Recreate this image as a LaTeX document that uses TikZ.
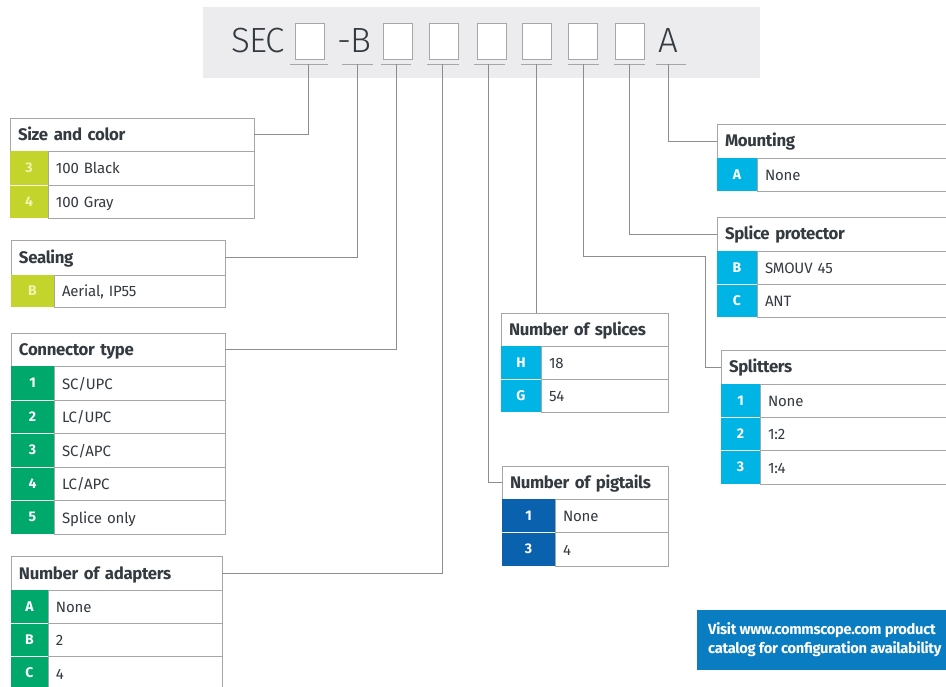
\documentclass[tikz,border=0pt]{standalone}
\usepackage{fontspec}
\setmainfont{Fira Sans}
\newfontface\lightface{Fira Sans Light}
\definecolor{lime}{HTML}{C3D42C}
\definecolor{limetxt}{HTML}{F0F4B0}
\definecolor{grn}{HTML}{00A86B}
\definecolor{cyn}{HTML}{00B4E6}
\definecolor{dblue}{HTML}{0A62AE}
\definecolor{banner}{HTML}{0A7DC2}
\definecolor{band}{HTML}{ECECEE}
\definecolor{rule}{HTML}{A6A6A6}
\definecolor{ink}{HTML}{333A40}
\tikzset{
 cellbase/.style={draw=rule,line width=0.9pt,anchor=north west,outer sep=0pt,inner ysep=0pt,inner xsep=8pt,text=ink,text height=12pt,text depth=0pt},
 wire/.style={draw=rule!85!black,line width=0.9pt},
 slot/.style={draw=rule,line width=1pt,fill=white,anchor=north west,outer sep=0pt,inner sep=0pt},
 under/.style={draw=rule,line width=0.9pt},
 keygap/.style={draw=white!90!lime,line width=0.7pt},
 headtext/.style={text=ink,font=\lightface\fontsize{35}{36}\selectfont\addfontfeature{LetterSpace=-3},inner sep=0pt},
}
% name x0 x1 y0 y1 text
\newcommand\ttl[6]{\node[cellbase,fill=white,minimum height=#5pt-#4pt,text width=\dimexpr #3pt-#2pt-16pt\relax,font=\fontsize{16.8}{18}\selectfont\bfseries\addfontfeature{LetterSpace=-2}] (#1) at (#2,#4) {#6};}
% name x0 xk x1 y0 y1 color key val
\newcommand\rw[9]{\node[cellbase,fill=white,minimum height=#6pt-#5pt,text width=\dimexpr #4pt-#3pt-16pt\relax,font=\fontsize{15}{16}\selectfont\addfontfeature{LetterSpace=-1}] (#1v) at (#3,#5) {#9};
 \node[anchor=north west,outer sep=0pt,inner sep=0pt,fill=#7,minimum width=#3pt-#2pt,minimum height=#6pt-#5pt,text=white,font=\fontsize{14}{16}\selectfont\bfseries] (#1k) at (#2,#5) {#8};}
\newcommand\slt[3]{\node[slot,minimum width=29pt,minimum height=36pt] (#1) at (#2,#3) {};}
\begin{document}
\begin{tikzpicture}[x=1pt,y=-1pt]
\useasboundingbox (0,0) rectangle (946,687);
\clip (0,0) rectangle (946,687);
\fill[band] (203,7) rectangle (760,78);
\node[headtext,anchor=base west] (sec) at (231,53) {SEC};
\node[headtext,anchor=base west] (dashb) at (337,53) {-B};
\node[headtext,anchor=base west] (tail) at (658,53) {A};
\slt{s1}{295}{24}\slt{s2}{383}{24}\slt{s3}{429}{24}\slt{s4}{477}{24}\slt{s5}{522}{24}\slt{s6}{568}{24}\slt{s7}{615}{24}
% underlines
\draw[under] (290,64) -- (328,64); \draw[under] (342,64) -- (373,64); \draw[under] (381,64) -- (411,64);
\draw[under] (427,64) -- (459,64); \draw[under] (474,64) -- (505,64); \draw[under] (521,64) -- (552,64);
\draw[under] (568,64) -- (599,64); \draw[under] (614,64) -- (645,64); \draw[under] (656,64) -- (686,64);
\coordinate (t1) at (308,64); \coordinate (t2) at (357,64); \coordinate (t3) at (396,64);
\coordinate (t4) at (442,64); \coordinate (t5) at (488,64); \coordinate (t6) at (536,64);
\coordinate (t7) at (583,64); \coordinate (t8) at (629,64); \coordinate (t9) at (668,64);
% left tables
\ttl{size}{10}{254}{118}{151}{Size and color}
\rw{size1}{10}{48}{254}{151}{185}{lime}{\textcolor{limetxt}{3}}{100 Black}
\rw{size2}{10}{48}{254}{185}{218}{lime}{\textcolor{limetxt}{4}}{100 Gray}
\ttl{seal}{11}{225}{240}{275}{Sealing}
\rw{seal1}{11}{54}{225}{275}{307}{lime}{\textcolor{limetxt}{B}}{Aerial, IP55}
\ttl{conn}{11}{225}{333}{366}{Connector type}
\rw{conn1}{11}{54}{225}{366}{400}{grn}{1}{SC/UPC}
\rw{conn2}{11}{54}{225}{400}{433}{grn}{2}{LC/UPC}
\rw{conn3}{11}{54}{225}{433}{467}{grn}{3}{SC/APC}
\rw{conn4}{11}{54}{225}{467}{500}{grn}{4}{LC/APC}
\rw{conn5}{11}{54}{225}{500}{534}{grn}{5}{Splice only}
\ttl{adap}{11}{222}{556}{590}{Number of adapters}
\rw{adap1}{11}{48}{222}{590}{623}{grn}{A}{None}
\rw{adap2}{11}{48}{222}{623}{656}{grn}{B}{2}
\rw{adap3}{11}{48}{222}{656}{690}{grn}{C}{4}
% middle tables
\ttl{spli}{501}{668}{313}{346}{Number of splices}
\rw{spli1}{501}{541}{668}{346}{379}{cyn}{H}{18}
\rw{spli2}{501}{541}{668}{379}{412}{cyn}{G}{54}
\ttl{pig}{502}{668}{466}{499}{Number of pigtails}
\rw{pig1}{502}{555}{668}{499}{532}{dblue}{1}{None}
\rw{pig2}{502}{555}{668}{532}{566}{dblue}{3}{4}
% right tables
\ttl{mount}{717}{950}{124}{158}{Mounting}
\rw{mount1}{717}{757}{950}{158}{191}{cyn}{A}{None}
\ttl{prot}{717}{950}{217}{251}{Splice protector}
\rw{prot1}{717}{757}{950}{251}{284}{cyn}{B}{SMOUV 45}
\rw{prot2}{717}{757}{950}{284}{317}{cyn}{C}{ANT}
\ttl{split}{721}{950}{350}{384}{Splitters}
\rw{split1}{721}{760}{950}{384}{417}{cyn}{1}{None}
\rw{split2}{721}{760}{950}{417}{450}{cyn}{2}{1:2}
\rw{split3}{721}{760}{950}{450}{484}{cyn}{3}{1:4}
% thin pale gaps between key cells
\foreach \k in {size2,conn2,conn3,conn4,conn5,adap2,adap3,spli2,pig2,prot2,split2,split3}
  \draw[keygap] (\k k.north west) -- (\k k.north east);
% connectors
\draw[wire] (size.east) -| (t1);
\draw[wire] (seal.east) -| (t2);
\draw[wire] (conn.east) -| (t3);
\draw[wire] (adap.east) -| (t4);
\draw[wire] (pig.west) -| (t5);
\draw[wire] (t6) -- (t6 |- spli.north);
\coordinate (sb1) at (705,256);
\draw[wire] (split.west) -| (sb1) -| (t7);
\draw[wire] (prot.west) -| (t8);
\draw[wire] (mount.west) -| (t9);
% banner
\node[anchor=north west,fill=banner,minimum width=252pt,minimum height=60pt,outer sep=0pt,inner sep=0pt] (visit) at (697,610) {};
\node[anchor=west,text=white,align=left,inner sep=0pt,font=\fontsize{14.7}{19}\selectfont\bfseries\addfontfeature{LetterSpace=-2}] (visittxt) at (708,640) {Visit www.commscope.com product\\catalog for configuration availability};
\end{tikzpicture}
\end{document}
